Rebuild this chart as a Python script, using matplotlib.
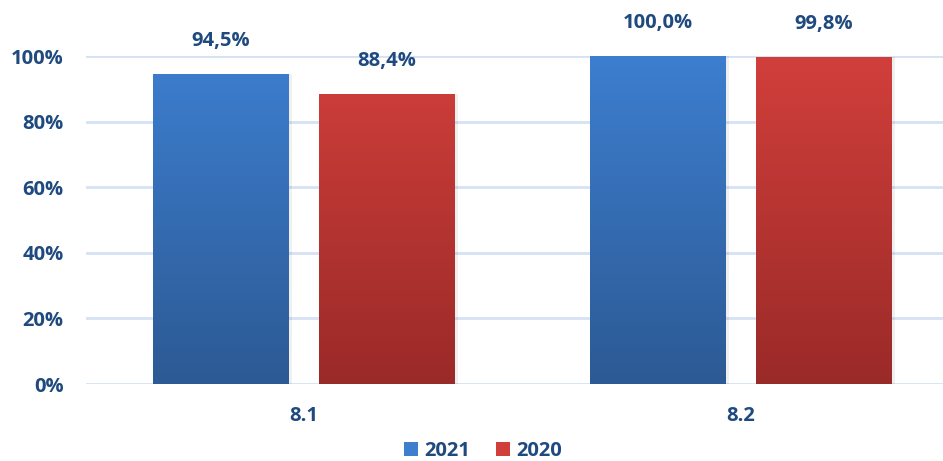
import numpy as np
import matplotlib
matplotlib.use("Agg")
import matplotlib.pyplot as plt
from matplotlib.colors import LinearSegmentedColormap
from matplotlib.ticker import FuncFormatter
from matplotlib.patches import Patch

categories = ["8.1", "8.2"]
series_names = ["2021", "2020"]
values_2021 = [94.5, 100.0]
values_2020 = [88.4, 99.8]
labels_2021 = ["94,5%", "100,0%"]
labels_2020 = ["88,4%", "99,8%"]
yticks = [0, 20, 40, 60, 80, 100]

txt = "#1f4a7f"
grid_c = "#d5e2f3"
blue_top, blue_bot = "#3d7ecf", "#2c5a94"
red_top, red_bot = "#d13f3b", "#9a2a28"

plt.rcParams['font.family'] = ['Open Sans', 'DejaVu Sans']
FS = 14.5

fig = plt.figure(figsize=(9.43, 4.61), dpi=100)
W, H = 943, 461
x0, y0 = 86, 384
x1, y1 = 943, 56
ax = fig.add_axes([x0 / W, 1 - y0 / H, (x1 - x0) / W, (y0 - y1) / H])

cat_px = [304, 741]
unit = cat_px[1] - cat_px[0]
left = (x0 - cat_px[0]) / unit
right = (x1 - cat_px[0]) / unit
ax.set_xlim(left, right)
ax.set_ylim(0, 100)

x = np.arange(len(categories))
bw = 0.311
off = 0.19

def grad_bars(xs, vals, top, bot, label):
    bars = ax.bar(xs, vals, bw, color=top, label=label, zorder=3)
    cmap = LinearSegmentedColormap.from_list("g", [bot, top])
    grad = np.linspace(0, 1, 256).reshape(-1, 1)
    for b in bars:
        bx = b.get_x()
        w, h = b.get_width(), b.get_height()
        im = ax.imshow(grad, cmap=cmap, aspect="auto", origin="lower",
                       extent=[bx, bx + w, 0, 100], zorder=3.5)
        im.set_clip_path(b)
        ax.bar(bx + w / 2 + 0.006, h, w + 0.004, color="#000000", alpha=0.06, zorder=2.5)
    return bars

grad_bars(x - off, values_2021, blue_top, blue_bot, series_names[0])
grad_bars(x + off, values_2020, red_top, red_bot, series_names[1])

for xi, v, l in zip(x - off, values_2021, labels_2021):
    ax.text(xi, v + 10, l, ha="center", va="center", fontsize=FS, fontweight="bold", color=txt)
for xi, v, l in zip(x + off, values_2020, labels_2020):
    ax.text(xi, v + 10, l, ha="center", va="center", fontsize=FS, fontweight="bold", color=txt)

ax.set_yticks(yticks)
ax.yaxis.set_major_formatter(FuncFormatter(lambda v, p: f"{int(v)}%"))
ax.set_xticks(x)
ax.set_xticklabels(categories)
ax.tick_params(axis="both", length=0, labelsize=FS, labelcolor=txt)
ax.tick_params(axis="x", pad=16)
ax.tick_params(axis="y", pad=16)
for lab in ax.get_xticklabels() + ax.get_yticklabels():
    lab.set_fontweight("bold")
ax.grid(axis="y", color=grid_c, linewidth=2, zorder=0)
ax.set_axisbelow(True)
for s in ax.spines.values():
    s.set_visible(False)

handles = [Patch(facecolor=blue_top, label=series_names[0]),
           Patch(facecolor=red_top, label=series_names[1])]
fig.legend(handles=handles, loc="center", bbox_to_anchor=(483 / W, 1 - 451 / H),
           ncol=2, frameon=False, handlelength=0.7, handleheight=0.7,
           handletextpad=0.3, columnspacing=1.3,
           prop={"size": FS, "weight": "bold"}, labelcolor=txt)

fig.savefig("out.png", dpi=100)
